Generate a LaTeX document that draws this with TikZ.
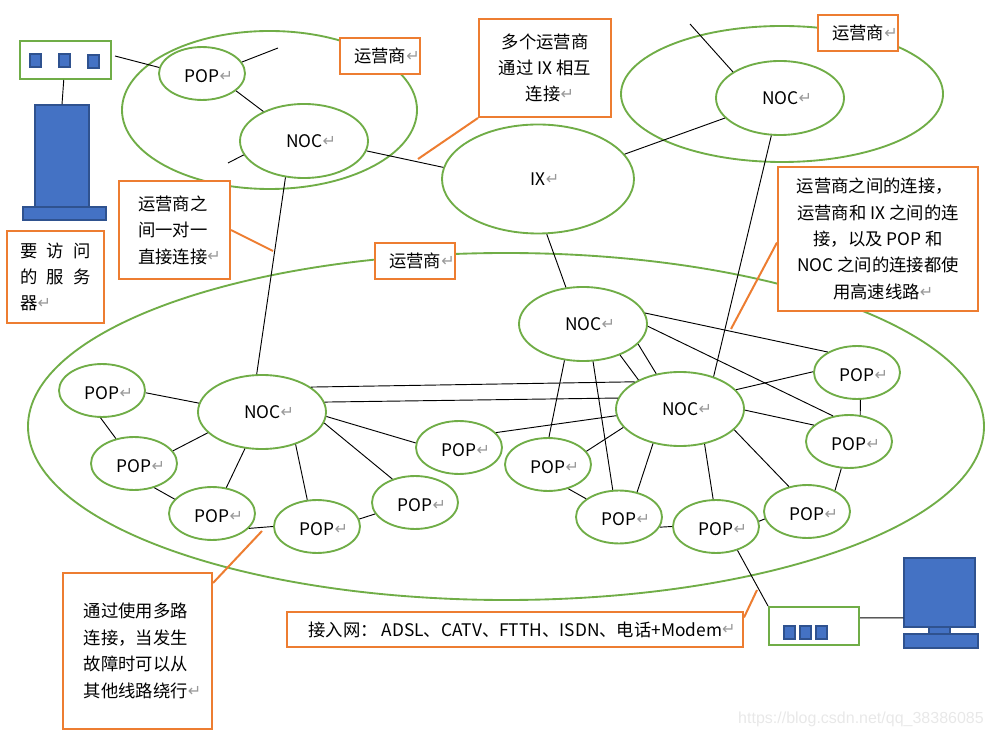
\documentclass[tikz,border=0pt]{standalone}
\usepackage{fontspec}
\setmainfont{Noto Sans CJK SC}
\newfontfamily\arrowfont{DejaVu Sans}
\newfontfamily\markfont{Liberation Sans}
\usetikzlibrary{shapes.geometric}
\definecolor{grn}{HTML}{70AD47}
\definecolor{org}{HTML}{ED7D31}
\definecolor{blu}{HTML}{4472C4}
\definecolor{dblu}{HTML}{2F528F}
\newcommand{\ret}{{\color{black!40}\arrowfont\fontsize{12}{12}\selectfont\raisebox{0.8pt}{↵}}}
\newcommand{\lb}[1]{\hspace*{10.5pt}#1\ret}
\newcommand{\lp}{\makebox[40pt]{\lb{POP}}}
\newcommand{\ind}{\hspace*{7.5pt}}
\tikzset{
  ring/.style={ellipse,draw=grn,line width=1.4pt,inner sep=0pt,font=\fontsize{13}{19.8}\selectfont},
  pop/.style={ring,minimum width=64.5pt,minimum height=39.7pt,text height=13.3pt,text depth=0pt},
  noc/.style={ring,minimum width=96pt,minimum height=55.5pt},
  cloud/.style={ring},
  lbl/.style={rectangle,draw=org,fill=white,line width=1.5pt,inner sep=0pt,font=\fontsize{13}{19.8}\selectfont},
  gbox/.style={rectangle,draw=grn,line width=1.5pt,inner sep=0pt},
  hw/.style={rectangle,draw=dblu,fill=blu,line width=1.1pt,inner sep=0pt},
  link/.style={draw=black,line width=0.7pt},
  olink/.style={draw=org,line width=1.5pt}
}
\begin{document}
\begin{tikzpicture}[x=0.75pt,y=-0.75pt]
\useasboundingbox (0,0) rectangle (992,737);
% large areas
\node[cloud,minimum width=221.25pt,minimum height=118.5pt] (area1) at (269.5,110) {};
\node[cloud,minimum width=241.5pt,minimum height=102pt] (area2) at (782,94) {};
\node[cloud,minimum width=717pt,minimum height=260.25pt] (area3) at (506,426.5) {};
% top left
\node[pop] (p1) at (202,73.5) {\lp};
\node[noc] (n1) at (304,141) {\lb{NOC}};
\node[ring,minimum width=144pt,minimum height=81.75pt] (ix) at (538,179) {\lb{IX}};
\node[noc] (n2) at (780,98) {\lb{NOC}};
\node[noc] (n3) at (583,324) {\lb{NOC}};
\node[noc] (n4) at (680,409) {\lb{NOC}};
\node[noc] (n5) at (262,412) {\lb{NOC}};
% right POPs
\node[pop] (pa) at (857,372.5) {\lp};
\node[pop] (pb) at (849,441.5) {\lp};
\node[pop] (pc) at (807,511.5) {\lp};
\node[pop] (pd) at (716,526.5) {\lp};
\node[pop] (pe) at (619,517) {\lp};
\node[pop] (pf) at (548,464.5) {\lp};
% left POPs
\node[pop] (l1) at (102,390.5) {\lp};
\node[pop] (l2) at (134,463.5) {\lp};
\node[pop] (l3) at (212,513.5) {\lp};
\node[pop] (l4) at (317,526.5) {\lp};
\node[pop] (l5) at (415,502.5) {\lp};
\node[pop] (l6) at (459,447.5) {\lp};
% server and switch
\node[gbox,minimum width=68.25pt,minimum height=28.5pt] (sw) at (65.5,60) {};
\node[hw,minimum width=8.25pt,minimum height=9.5pt] (sq1) at (35.5,60.5) {};
\node[hw,minimum width=8.25pt,minimum height=9.5pt] (sq2) at (64.5,60.5) {};
\node[hw,minimum width=8.25pt,minimum height=9.5pt] (sq3) at (93.5,61.5) {};
\node[hw,minimum width=40.5pt,minimum height=76.5pt] (srv) at (62,156) {};
\node[hw,minimum width=62.25pt,minimum height=9.75pt] (srvb) at (64.5,213.5) {};
% client and router
\node[gbox,minimum width=67.5pt,minimum height=28.5pt] (rt) at (814,626) {};
\node[hw,minimum width=8.25pt,minimum height=9.5pt] (rq1) at (789.5,632.5) {};
\node[hw,minimum width=8.25pt,minimum height=9.5pt] (rq2) at (805.5,632.5) {};
\node[hw,minimum width=8.25pt,minimum height=9.5pt] (rq3) at (821.5,632.5) {};
\node[hw,minimum width=15.75pt,minimum height=7pt] (pcn) at (939.5,629.5) {};
\node[hw,minimum width=53.25pt,minimum height=51.75pt] (pcm) at (939.5,592.5) {};
\node[hw,minimum width=55.5pt,minimum height=10.5pt] (pcb) at (941,641) {};
% labels
\node[lbl,minimum width=60pt,minimum height=27pt] (b1) at (380,56) {\lb{运营商}};
\node[lbl,minimum width=99pt,minimum height=73.5pt,align=center] (b2) at (545,68) {多个运营商\\通过 IX 相互\\\ind 连接\ret};
\node[lbl,minimum width=60pt,minimum height=27pt] (b3) at (858,33) {\lb{运营商}};
\node[lbl,minimum width=83.25pt,minimum height=73.5pt,align=left] (b4) at (174.5,230) {\ind 运营商之\\\ind 间一对一\\\ind 直接连接\ret};
\node[lbl,minimum width=72.75pt,minimum height=69pt,align=left] (b5) at (55.5,277) {要 \hspace{4pt}访 \hspace{4pt}问\\的 \hspace{4pt}服 \hspace{4pt}务\\器\ret};
\node[lbl,minimum width=60pt,minimum height=27pt] (b6) at (415,261) {\lb{运营商}};
\node[lbl,minimum width=150pt,minimum height=108pt,align=center] (b7) at (878,239) {运营商之间的连接，\hspace*{5pt}\\运营商和 IX 之间的连\\接，以及 POP 和\\NOC 之间的连接都使\\\hspace*{8pt}用高速线路\ret};
\node[lbl,minimum width=342pt,minimum height=26.25pt] (b8) at (515,629.5) {\lb{接入网： ADSL、CATV、FTTH、ISDN、电话+Modem}};
\node[lbl,minimum width=111.75pt,minimum height=117pt,align=left] (b9) at (137.5,651) {\ind 通过使用多路\\\ind 连接，当发生\\\ind 故障时可以从\\\ind 其他线路绕行\ret};
\node[text=black!9,font=\markfont\fontsize{12}{12}\selectfont,inner sep=0pt] (wm) at (861,719) {https://blog.csdn.net/qq\_38386085};
% free ends
\coordinate (e1) at (278,48);
\coordinate (e2) at (228,163);
\coordinate (e3) at (690,24);
\coordinate (o1) at (418,159);
\coordinate (o2) at (273,251);
\coordinate (o3) at (731,329);
\coordinate (o4) at (262,531);
\coordinate (o5) at (757,590);
% connectors
\draw[link] ([shift={(3,-4)}]sw.east) -- (p1.172);
\draw[link] (sw.265) -- (srv.north);
\draw[link] (p1.16) -- (e1);
\draw[link] (p1.-27) -- (n1.144);
\draw[link] (n1.-167) -- (e2);
\draw[link] (n1.-9) -- (ix.173.5);
\draw[link] (n1.-117) -- (n5.98);
\draw[link] (ix.16) -- (n2.200);
\draw[link] (n2.151) -- (e3);
\draw[link] (n2.257) -- (n4.44);
\draw[link] (ix.-81) -- (n3.115);
\draw[link] (n3.10) -- (pa.145);
\draw[link] (n3.-2.5) -- (pb.122);
\draw[link] (n3.-40.5) -- (n4.145);
\draw[link] (n3.-20) -- (n4.124);
\draw[link] (n3.-117) -- (pf.88);
\draw[link] (n3.-75) -- (pe.103);
\draw[link] (n5.27) -- (n4.149);
\draw[link] (n5.9) -- (n4.170);
\draw[link] (n4.186) -- (l6.22);
\draw[link] (n4.198) -- (pf.19);
\draw[link] (n4.232) -- (pe.54);
\draw[link] (n4.-55) -- (pd.96.5);
\draw[link] (n4.-21.6) -- (pc.126);
\draw[link] (n4.-1.7) -- (pb.155);
\draw[link] (n4.19) -- (pa.179);
\draw[link] (pa.-83) -- (pb.67.5);
\draw[link] (pb.254) -- (pc.37);
\draw[link] (pc.190.6) -- (pd.7.5);
\draw[link] (pe.-14) -- (pd.180);
\draw[link] (pf.-50) -- (pe.151);
\draw[link] (pd.-48) -- (rt.north west);
\draw[link] (rt.10) -- (pcm.215.5);
\draw[link] (l1.-3) -- (n5.172);
\draw[link] (l1.267) -- (l2.126);
\draw[link] (l2.18) -- (n5.201);
\draw[link] (l2.-50) -- (l3.159);
\draw[link] (l3.61) -- (n5.245);
\draw[link] (l3.-22) -- (l4.180);
\draw[link] (l4.110) -- (n5.-44);
\draw[link] (l4.10) -- (l5.196);
\draw[link] (l5.134) -- (n5.-10);
\draw[link] (l6.174) -- (n5.-4);
\draw[olink] (b2.south west) -- (o1);
\draw[olink] (b4.east) -- (o2);
\draw[olink] (b7.182) -- (o3);
\draw[olink] (b9.42.5) -- (o4);
\draw[olink] (b8.3) -- (o5);
\end{tikzpicture}
\end{document}
